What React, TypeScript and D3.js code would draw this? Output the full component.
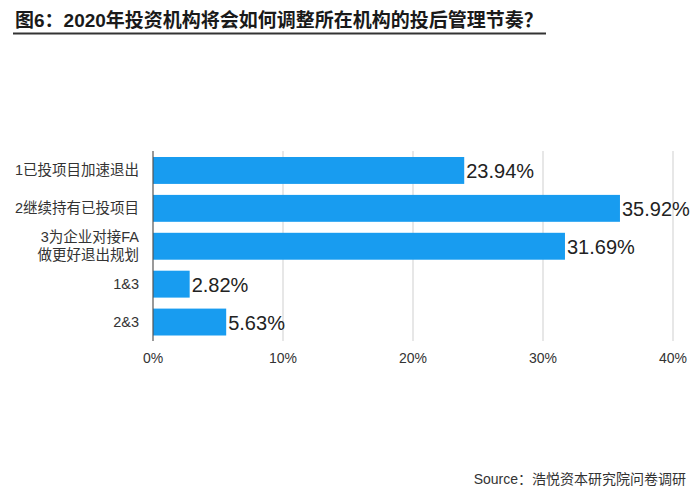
import React from "react";
import * as d3 from "d3";

const categories: string[][] = [
  ["1已投项目加速退出"],
  ["2继续持有已投项目"],
  ["3为企业对接FA", "做更好退出规划"],
  ["1&3"],
  ["2&3"],
];
const values: number[] = [23.94, 35.92, 31.69, 2.82, 5.63];
const ticks: number[] = [0, 10, 20, 30, 40];
const title = "图6：2020年投资机构将会如何调整所在机构的投后管理节奏？";
const source = "Source：浩悦资本研究院问卷调研";

const FONT = "'Liberation Sans', Arial, 'Noto Sans CJK SC', sans-serif";

export default function App() {
  const W = 700;
  const H = 500;
  const x = d3.scaleLinear().domain([0, 40]).range([153, 673]);
  const idx = categories.map((_, i) => String(i));
  const y = d3
    .scaleBand<string>()
    .domain(idx)
    .range([151.5, 341])
    .paddingInner(0.29)
    .paddingOuter(0.145);
  const bw = y.bandwidth();

  return (
    <svg
      width={W}
      height={H}
      style={{ position: "absolute", left: 0, top: 0, background: "#fff" }}
      fontFamily={FONT}
    >
      <rect x={0} y={0} width={W} height={H} fill="#fff" />
      <text x={15} y={27} fontSize={19} fontWeight="bold" fill="#1a1a1a">
        {title}
      </text>
      <line x1={13} x2={546} y1={33.5} y2={33.5} stroke="#333" strokeWidth={2} />

      {ticks.map((t) => (
        <g key={t}>
          {t !== 0 && (
            <line x1={x(t)} x2={x(t)} y1={151} y2={341} stroke="#cfcfcf" strokeWidth={1} />
          )}
          <text
            x={x(t)}
            y={363}
            fontSize={14}
            textAnchor="middle"
            fill="#333"
          >
            {t}%
          </text>
        </g>
      ))}

      {values.map((v, i) => {
        const yy = y(String(i)) as number;
        return (
          <g key={i}>
            <rect x={x(0)} y={yy} width={x(v) - x(0)} height={bw} fill="#189cf0" />
            <text
              x={x(v) + 2}
              y={yy + bw / 2 + 7.5}
              fontSize={20}
              fill="#222"
            >
              {v.toFixed(2)}%
            </text>
          </g>
        );
      })}

      <line x1={x(0)} x2={x(0)} y1={151} y2={341} stroke="#555" strokeWidth={1.2} />

      {categories.map((lines, i) => {
        const cy = (y(String(i)) as number) + bw / 2;
        const lh = 18;
        const start = cy - ((lines.length - 1) * lh) / 2;
        return (
          <text key={i} textAnchor="end" fontSize={14.5} fill="#333">
            {lines.map((l, j) => (
              <tspan key={j} x={139} y={start + j * lh + 5}>
                {l}
              </tspan>
            ))}
          </text>
        );
      })}

      <text x={686} y={484} fontSize={14} textAnchor="end" fill="#333">
        {source}
      </text>
    </svg>
  );
}
